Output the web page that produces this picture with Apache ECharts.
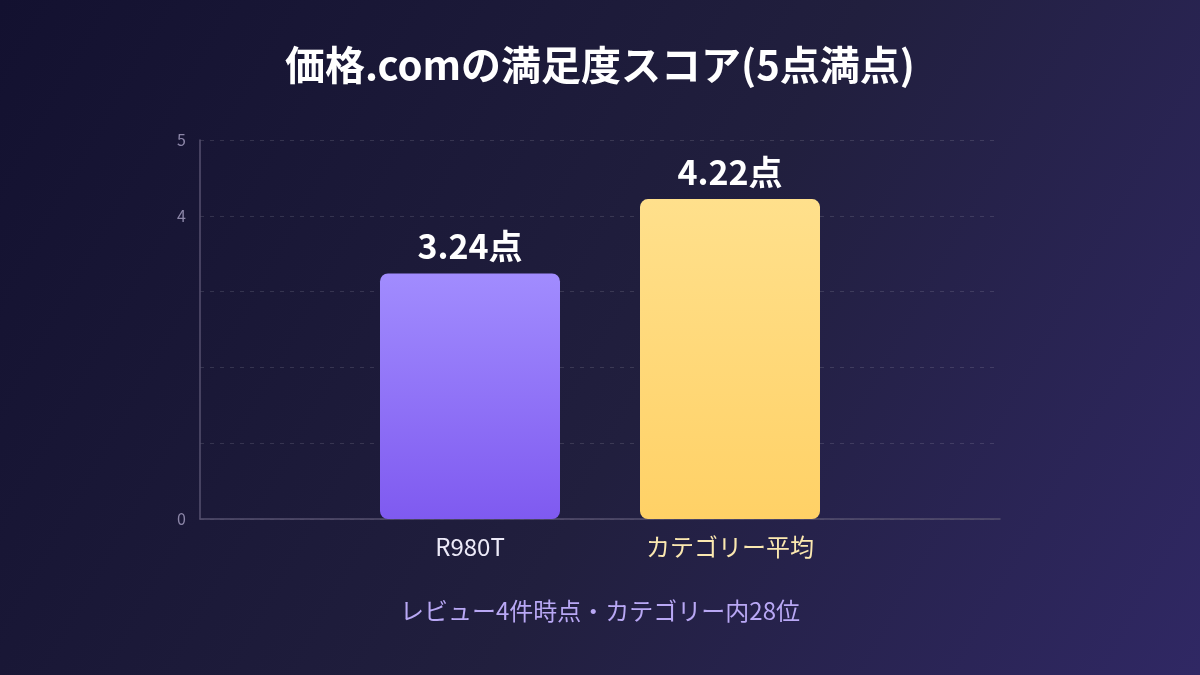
<!DOCTYPE html>
<html>
<head>
<meta charset="utf-8">
<script src="https://cdn.jsdelivr.net/npm/echarts@6/dist/echarts.min.js"></script>
<style>
html,body{margin:0;padding:0;}
#c{width:1200px;height:675px;}
</style>
</head>
<body>
<div id="c"></div>
<script>
const titleText = '価格.comの満足度スコア(5点満点)';
const subText = 'レビュー4件時点・カテゴリー内28位';
const categories = ['R980T', 'カテゴリー平均'];
const positions = [2.7, 5.3];
const scores = [3.24, 4.22];
const yTickLabels = [0, 4, 5];

const FONT = '"Noto Sans CJK JP", "Noto Sans", sans-serif';
const gradients = [
  new echarts.graphic.LinearGradient(0, 0, 0, 1, [{offset: 0, color: '#a18cfe'}, {offset: 1, color: '#7f5af0'}]),
  new echarts.graphic.LinearGradient(0, 0, 0, 1, [{offset: 0, color: '#ffe08c'}, {offset: 1, color: '#ffd166'}])
];
const labelColors = ['#eceaf8', '#fbe8b0'];

const chart = echarts.init(document.getElementById('c'));
chart.setOption({
  backgroundColor: new echarts.graphic.LinearGradient(0, 0, 1, 1, [
    {offset: 0, color: '#131130'},
    {offset: 0.55, color: '#211f3e'},
    {offset: 1, color: '#302864'}
  ]),
  title: [
    {text: titleText, left: 'center', top: 40,
     textStyle: {color: '#ffffff', fontSize: 40, fontWeight: 'bold', fontFamily: FONT}},
    {text: subText, left: 'center', top: 594,
     textStyle: {color: '#b9a8f5', fontSize: 24, fontWeight: 'normal', fontFamily: FONT}}
  ],
  grid: {left: 200, right: 200, top: 140, bottom: 156},
  xAxis: {
    type: 'value', min: 0, max: 8,
    axisLine: {show: true, onZero: false, lineStyle: {color: '#56506f', width: 1.5}},
    axisTick: {show: false},
    splitLine: {show: false},
    axisLabel: {
      customValues: positions,
      margin: 16,
      fontFamily: FONT,
      fontSize: 24,
      formatter: function (v) {
        const i = positions.indexOf(v);
        return i >= 0 ? '{c' + i + '|' + categories[i] + '}' : '';
      },
      rich: {
        c0: {color: labelColors[0], fontSize: 24, fontFamily: FONT},
        c1: {color: labelColors[1], fontSize: 24, fontFamily: FONT}
      }
    }
  },
  yAxis: {
    type: 'value', min: 0, max: 5, interval: 1,
    axisLine: {show: true, lineStyle: {color: '#56506f', width: 1.5}},
    axisTick: {show: false},
    splitLine: {show: true, lineStyle: {color: 'rgba(255,255,255,0.12)', type: [4, 6], width: 1}},
    axisLabel: {
      color: '#8c86a8', fontSize: 16, fontFamily: FONT, margin: 14,
      formatter: function (v) { return yTickLabels.indexOf(v) >= 0 ? String(v) : ''; }
    }
  },
  series: [{
    type: 'bar',
    barWidth: 180,
    data: scores.map((s, i) => ({
      value: [positions[i], s],
      itemStyle: {color: gradients[i], borderRadius: 8}
    })),
    label: {
      show: true, position: 'top', distance: 10,
      color: '#ffffff', fontSize: 34, fontWeight: 'bold', fontFamily: FONT,
      formatter: p => p.value[1].toFixed(2) + '点'
    }
  }]
});
</script>
</body>
</html>
